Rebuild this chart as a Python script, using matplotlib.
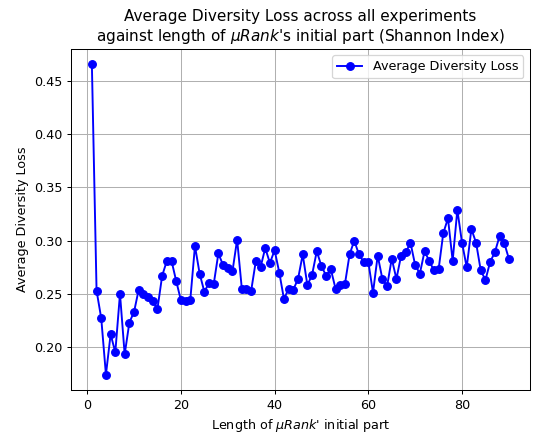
import matplotlib
matplotlib.use('Agg')
import matplotlib.pyplot as plt

# prefix length of muRank's initial part
lengths = list(range(1, 91))

# average diversity loss (Shannon index)
avg_loss = [
    0.466, 0.253, 0.227, 0.174, 0.212, 0.195, 0.250, 0.193, 0.223, 0.233,
    0.254, 0.250, 0.247, 0.243, 0.236, 0.267, 0.281, 0.281, 0.262, 0.244,
    0.243, 0.244, 0.295, 0.269, 0.252, 0.260, 0.259, 0.288, 0.277, 0.274,
    0.271, 0.301, 0.255, 0.255, 0.253, 0.281, 0.275, 0.293, 0.279, 0.291,
    0.270, 0.245, 0.255, 0.254, 0.264, 0.287, 0.258, 0.268, 0.290, 0.276,
    0.267, 0.273, 0.255, 0.258, 0.259, 0.287, 0.300, 0.287, 0.280, 0.280,
    0.251, 0.286, 0.264, 0.257, 0.283, 0.264, 0.286, 0.289, 0.298, 0.277,
    0.269, 0.290, 0.281, 0.272, 0.273, 0.307, 0.321, 0.281, 0.329, 0.298,
    0.275, 0.311, 0.298, 0.272, 0.263, 0.280, 0.289, 0.304, 0.298, 0.283,
]

DPI = 91.5
fig = plt.figure(figsize=(534 / DPI, 434 / DPI), dpi=DPI)
ax = fig.add_axes([0.133, 0.101, 0.859, 0.787])

ax.plot(lengths, avg_loss, '-o', color='blue', markersize=6,
        label='Average Diversity Loss')

ax.set_title("Average Diversity Loss across all experiments\n"
             "against length of $\\mu Rank$'s initial part (Shannon Index)")
ax.set_xlabel("Length of $\\mu Rank$' initial part")
ax.set_ylabel('Average Diversity Loss')
ax.grid(True)
ax.legend(loc='upper right')

fig.savefig('out.png', dpi=DPI)
